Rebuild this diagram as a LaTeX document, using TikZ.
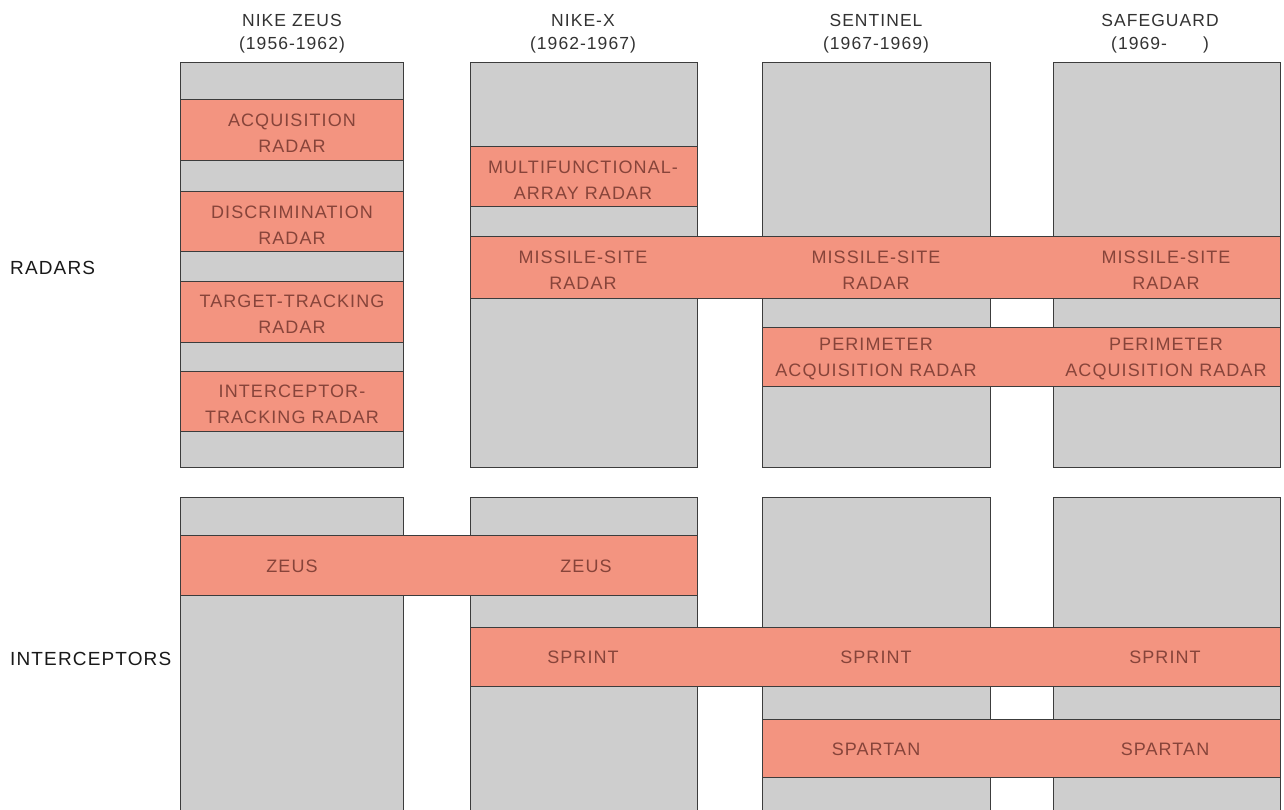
\documentclass[tikz,border=0pt]{standalone}
\usepackage{fontspec}
\setmainfont{Liberation Sans}[LetterSpace=6]
\definecolor{colgray}{RGB}{206,206,206}
\definecolor{salmon}{RGB}{243,148,128}
\definecolor{bandtext}{RGB}{135,68,58}
\definecolor{headtext}{RGB}{50,50,50}
\definecolor{edge}{RGB}{60,60,60}
\tikzset{
  colbox/.style={draw=edge, line width=1pt, fill=colgray, anchor=north west, inner sep=0pt, outer sep=0pt},
  bandbox/.style={draw=edge, line width=1pt, fill=salmon, anchor=north west, inner sep=0pt, outer sep=0pt},
  bandlabel/.style={text=bandtext, align=center, inner sep=0pt, font=\fontsize{18}{26}\selectfont},
  headlabel/.style={text=headtext, align=center, inner sep=0pt, font=\fontsize{17.5}{23}\selectfont},
  sidelabel/.style={text=black!90, anchor=west, inner sep=0pt, font=\fontsize{19}{20}\selectfont},
}
\begin{document}
\begin{tikzpicture}[x=1pt,y=-1pt]
\clip (0,0) rectangle (1284,810);
\useasboundingbox (0,0) rectangle (1284,810);
% columns, radars
\node[colbox, minimum width=223pt, minimum height=404pt] (r1) at (180,63) {};
\node[colbox, minimum width=227pt, minimum height=404pt] (r2) at (470,63) {};
\node[colbox, minimum width=228pt, minimum height=404pt] (r3) at (762,63) {};
\node[colbox, minimum width=227pt, minimum height=404pt] (r4) at (1053,63) {};
% columns, interceptors
\node[colbox, minimum width=223pt, minimum height=318pt] (i1) at (180,497) {};
\node[colbox, minimum width=227pt, minimum height=318pt] (i2) at (470,497) {};
\node[colbox, minimum width=228pt, minimum height=318pt] (i3) at (762,497) {};
\node[colbox, minimum width=227pt, minimum height=318pt] (i4) at (1053,497) {};
% radar bands
\node[bandbox, minimum width=223pt, minimum height=61pt] (acq) at (180,100) {};
\node[bandbox, minimum width=223pt, minimum height=60pt] (disc) at (180,192) {};
\node[bandbox, minimum width=223pt, minimum height=61pt] (tt) at (180,281) {};
\node[bandbox, minimum width=223pt, minimum height=60pt] (it) at (180,371) {};
\node[bandbox, minimum width=227pt, minimum height=60pt] (mfar) at (470,147) {};
\node[bandbox, minimum width=810pt, minimum height=61pt] (msr) at (470,237) {};
\node[bandbox, minimum width=518pt, minimum height=59pt] (par) at (762,327) {};
% interceptor bands
\node[bandbox, minimum width=517pt, minimum height=60pt] (zeus) at (180,535) {};
\node[bandbox, minimum width=810pt, minimum height=59pt] (sprint) at (470,627) {};
\node[bandbox, minimum width=518pt, minimum height=58pt] (spartan) at (762,719) {};
% band labels
\node[bandlabel] (lacq) at (292,133) {ACQUISITION\\RADAR};
\node[bandlabel] (ldisc) at (292,225) {DISCRIMINATION\\RADAR};
\node[bandlabel] (ltt) at (292,314) {TARGET-TRACKING\\RADAR};
\node[bandlabel] (lit) at (292,404) {INTERCEPTOR-\\TRACKING RADAR};
\node[bandlabel] (lmfar) at (583,180) {MULTIFUNCTIONAL-\\ARRAY RADAR};
\node[bandlabel] (lmsr2) at (583,270) {MISSILE-SITE\\RADAR};
\node[bandlabel] (lmsr3) at (876,270) {MISSILE-SITE\\RADAR};
\node[bandlabel] (lmsr4) at (1166,270) {MISSILE-SITE\\RADAR};
\node[bandlabel] (lpar3) at (876,359) {PERIMETER\\ACQUISITION RADAR};
\node[bandlabel] (lpar4) at (1166,359) {PERIMETER\\ACQUISITION RADAR};
\node[bandlabel] (lzeus1) at (292,566) {ZEUS};
\node[bandlabel] (lzeus2) at (586,566) {ZEUS};
\node[bandlabel] (lspr2) at (583,657) {SPRINT};
\node[bandlabel] (lspr3) at (876,657) {SPRINT};
\node[bandlabel] (lspr4) at (1165,657) {SPRINT};
\node[bandlabel] (lspa3) at (876,749) {SPARTAN};
\node[bandlabel] (lspa4) at (1165,749) {SPARTAN};
% headers
\node[headlabel] (h1) at (292,34) {NIKE ZEUS\\(1956-1962)};
\node[headlabel] (h2) at (583,34) {NIKE-X\\(1962-1967)};
\node[headlabel] (h3) at (876,34) {SENTINEL\\(1967-1969)};
\node[headlabel] (h4) at (1160,34) {SAFEGUARD\\(1969-\hspace{36pt})};
% side labels
\node[sidelabel] (srad) at (10,268) {RADARS};
\node[sidelabel] (sint) at (10,659) {INTERCEPTORS};
\end{tikzpicture}
\end{document}
